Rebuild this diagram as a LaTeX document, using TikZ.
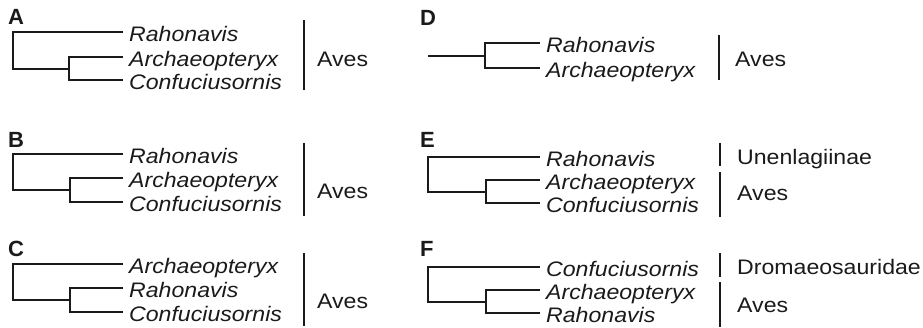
\documentclass[tikz,border=0pt]{standalone}
\usepackage{fontspec}
\newfontfamily\tx{Liberation Sans}[FakeStretch=1.1]
\newfontfamily\lb{Liberation Sans}
\definecolor{ink}{HTML}{1A1A1A}
\tikzset{
  br/.style={draw=ink, line width=1.3pt},
  bar/.style={draw=ink, line width=1.4pt},
  taxon/.style={anchor=base west, inner sep=0pt, text=ink, font=\tx\itshape\fontsize{21}{25}\selectfont},
  clade/.style={anchor=base west, inner sep=0pt, text=ink, font=\tx\fontsize{21}{25}\selectfont},
  panel/.style={anchor=base west, inner sep=0pt, text=ink, font=\lb\bfseries\fontsize{22}{26}\selectfont}
}
\begin{document}
\begin{tikzpicture}[x=1pt,y=-1pt]
\useasboundingbox (0,0) rectangle (923,327);

% ---------- Panel A ----------
\node[panel] (lA) at (8,24) {A};
\coordinate (A1) at (123,32);
\coordinate (A2) at (123,57);
\coordinate (A3) at (123,80);
\coordinate (Ain) at (69,69);
\coordinate (Aroot) at (13,69);
\draw[br] (A1) -| (Aroot) -- (Ain);
\draw[br] (A2) -| (Ain) |- (A3);
\node[taxon] (tA1) at (129,41) {Rahonavis};
\node[taxon] (tA2) at (129,66) {Archaeopteryx};
\node[taxon] (tA3) at (129,89) {Confuciusornis};
\coordinate (Ab1) at (304,20);
\coordinate (Ab2) at (304,90);
\draw[bar] (Ab1) -- (Ab2);
\node[clade] (cA) at (317,66) {Aves};

% ---------- Panel B ----------
\node[panel] (lB) at (8,147) {B};
\coordinate (B1) at (123,154);
\coordinate (B2) at (123,178);
\coordinate (B3) at (123,202);
\coordinate (Bin) at (70,190);
\coordinate (Broot) at (13,190);
\draw[br] (B1) -| (Broot) -- (Bin);
\draw[br] (B2) -| (Bin) |- (B3);
\node[taxon] (tB1) at (129,163) {Rahonavis};
\node[taxon] (tB2) at (129,187) {Archaeopteryx};
\node[taxon] (tB3) at (129,211) {Confuciusornis};
\coordinate (Bb1) at (304,143);
\coordinate (Bb2) at (304,216);
\draw[bar] (Bb1) -- (Bb2);
\node[clade] (cB) at (317,198) {Aves};

% ---------- Panel C ----------
\node[panel] (lC) at (8,256) {C};
\coordinate (C1) at (123,264);
\coordinate (C2) at (123,288);
\coordinate (C3) at (123,312);
\coordinate (Cin) at (70,300);
\coordinate (Croot) at (13,300);
\draw[br] (C1) -| (Croot) -- (Cin);
\draw[br] (C2) -| (Cin) |- (C3);
\node[taxon] (tC1) at (129,273) {Archaeopteryx};
\node[taxon] (tC2) at (129,297) {Rahonavis};
\node[taxon] (tC3) at (129,321) {Confuciusornis};
\coordinate (Cb1) at (304,253);
\coordinate (Cb2) at (304,326);
\draw[bar] (Cb1) -- (Cb2);
\node[clade] (cC) at (317,308) {Aves};

% ---------- Panel D ----------
\node[panel] (lD) at (420,25) {D};
\coordinate (D1) at (540,43);
\coordinate (D2) at (540,68);
\coordinate (Din) at (485,56);
\coordinate (Dstem) at (428,56);
\draw[br] (Dstem) -- (Din);
\draw[br] (D1) -| (Din) |- (D2);
\node[taxon] (tD1) at (546,52) {Rahonavis};
\node[taxon] (tD2) at (546,77) {Archaeopteryx};
\coordinate (Db1) at (719,35);
\coordinate (Db2) at (719,80);
\draw[bar] (Db1) -- (Db2);
\node[clade] (cD) at (735,66) {Aves};

% ---------- Panel E ----------
\node[panel] (lE) at (420,147) {E};
\coordinate (E1) at (540,157);
\coordinate (E2) at (540,180);
\coordinate (E3) at (540,203);
\coordinate (Ein) at (486,192);
\coordinate (Eroot) at (428,192);
\draw[br] (E1) -| (Eroot) -- (Ein);
\draw[br] (E2) -| (Ein) |- (E3);
\node[taxon] (tE1) at (546,166) {Rahonavis};
\node[taxon] (tE2) at (546,189) {Archaeopteryx};
\node[taxon] (tE3) at (546,212) {Confuciusornis};
\coordinate (Eb1) at (720,143);
\coordinate (Eb2) at (720,166);
\coordinate (Eb3) at (720,172);
\coordinate (Eb4) at (720,217);
\draw[bar] (Eb1) -- (Eb2);
\draw[bar] (Eb3) -- (Eb4);
\node[clade] (cE1) at (737,164) {Unenlagiinae};
\node[clade] (cE2) at (737,200) {Aves};

% ---------- Panel F ----------
\node[panel] (lF) at (420,256) {F};
\coordinate (F1) at (540,267);
\coordinate (F2) at (540,290);
\coordinate (F3) at (540,313);
\coordinate (Fin) at (486,302);
\coordinate (Froot) at (428,302);
\draw[br] (F1) -| (Froot) -- (Fin);
\draw[br] (F2) -| (Fin) |- (F3);
\node[taxon] (tF1) at (546,276) {Confuciusornis};
\node[taxon] (tF2) at (546,299) {Archaeopteryx};
\node[taxon] (tF3) at (546,322) {Rahonavis};
\coordinate (Fb1) at (720,253);
\coordinate (Fb2) at (720,277);
\coordinate (Fb3) at (720,282);
\coordinate (Fb4) at (720,327);
\draw[bar] (Fb1) -- (Fb2);
\draw[bar] (Fb3) -- (Fb4);
\node[clade] (cF1) at (737,274) {Dromaeosauridae};
\node[clade] (cF2) at (737,312) {Aves};
\end{tikzpicture}
\end{document}
